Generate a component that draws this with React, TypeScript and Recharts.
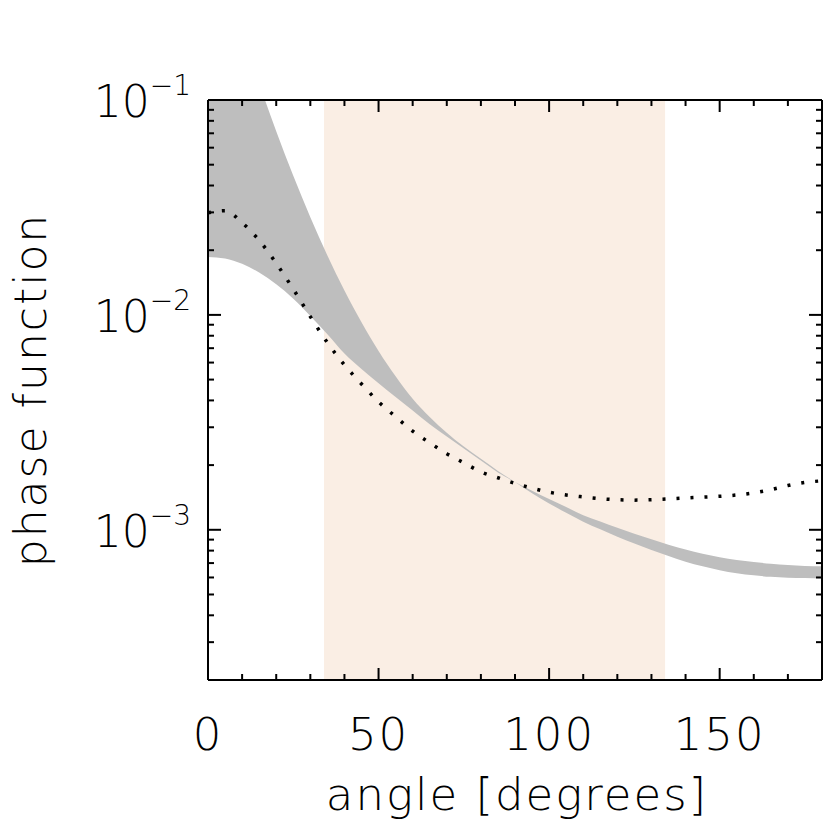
import React from "react";
import { Area, ComposedChart, Line, XAxis, YAxis, Label } from "recharts";

const angles = [
  0, 5, 10, 15, 20, 25, 30, 35, 40, 45, 50, 55, 60, 65, 70, 75, 80, 85, 90, 95,
  100, 105, 110, 115, 120, 125, 130, 135, 140, 145, 150, 155, 160, 165, 170, 175, 180,
];

// steep edge of the grey band (runs off the top at small angles)
const steepEdge = [
  0.681, 0.368, 0.206, 0.1194, 0.0716, 0.0444, 0.0285, 0.01892, 0.013, 0.00925, 0.0068, 0.00518, 0.00407,
  0.00335, 0.00283, 0.00244, 0.00214, 0.00188, 0.001667, 0.001479, 0.001327, 0.0012, 0.001091, 0.001005,
  0.000929, 0.000863, 0.000805, 0.000755, 0.000711, 0.000676, 0.000649, 0.000628, 0.000614, 0.000604,
  0.000598, 0.000596, 0.000594,
];

// flatter edge of the grey band
const flatEdge = [
  0.01862, 0.01832, 0.0173, 0.01574, 0.01387, 0.01189, 0.00989, 0.00813, 0.00661, 0.0056, 0.00481, 0.00415,
  0.00359, 0.0031, 0.00272, 0.00239, 0.0021, 0.00185, 0.00167, 0.00152, 0.00139, 0.001276, 0.00117,
  0.001094, 0.001021, 0.000959, 0.000904, 0.000851, 0.000809, 0.000774, 0.000746, 0.000724, 0.000708,
  0.000695, 0.000685, 0.000679, 0.000676,
];

const dotted = [
  0.02985, 0.03055, 0.02685, 0.02223, 0.01738, 0.01318, 0.00982, 0.00743, 0.00585, 0.00477, 0.00394,
  0.00336, 0.00288, 0.00254, 0.00226, 0.00205, 0.00186, 0.001746, 0.001644, 0.001563, 0.001496, 0.001452,
  0.001422, 0.001396, 0.00138, 0.001374, 0.00138, 0.001393, 0.001406, 0.001419, 0.001432, 0.001452,
  0.001486, 0.001538, 0.001607, 0.00166, 0.00169,
];

const xTicks = [0, 10, 20, 30, 40, 50, 60, 70, 80, 90, 100, 110, 120, 130, 140, 150, 160, 170, 180];
const xMajor = [0, 50, 100, 150];
const yTicks = [
  0.0002, 0.0003, 0.0004, 0.0005, 0.0006, 0.0007, 0.0008, 0.0009,
  0.001, 0.002, 0.003, 0.004, 0.005, 0.006, 0.007, 0.008, 0.009,
  0.01, 0.02, 0.03, 0.04, 0.05, 0.06, 0.07, 0.08, 0.09, 0.1,
];
const yDomain = [0.0002, 0.1];
const shadedRange = [34, 134];

const rows = angles.map((a, i) => ({
  angle: a,
  band: [steepEdge[i], flatEdge[i]],
  dotted: dotted[i],
}));

// shaded angle window, spanning the whole y range
const shadeRows = shadedRange.map((a) => ({ angle: a, shade: yDomain }));

const FONT = "'DejaVu Sans', sans-serif";
const WEIGHT = 300;

const isDecade = (v: number) => Math.abs(Math.log10(v) - Math.round(Math.log10(v))) < 1e-6;

function BottomTick({ x, y, payload }: any) {
  const major = xMajor.includes(payload.value);
  return (
    <g>
      <line x1={x} x2={x} y1={y} y2={y - (major ? 12 : 6)} stroke="#000" strokeWidth={2} />
      {major && (
        <text x={x} y={y + 70} textAnchor="middle" fontSize={45} fontFamily={FONT} fontWeight={WEIGHT} letterSpacing={2} fill="#000">
          {payload.value}
        </text>
      )}
    </g>
  );
}

function TopTick({ x, y, payload }: any) {
  const major = xMajor.includes(payload.value);
  return <line x1={x} x2={x} y1={y} y2={y + (major ? 12 : 6)} stroke="#000" strokeWidth={2} />;
}

function LeftTick({ x, y, payload }: any) {
  const major = isDecade(payload.value);
  const exp = Math.round(Math.log10(payload.value));
  return (
    <g>
      <line x1={x} x2={x + (major ? 13 : 6)} y1={y} y2={y} stroke="#000" strokeWidth={2} />
      {major && (
        <text x={x - 17} y={y + 17} textAnchor="end" fontFamily={FONT} fontWeight={WEIGHT} fill="#000">
          <tspan fontSize={44}>10</tspan>
          <tspan fontSize={28} dy={-22}>{"\u2212" + Math.abs(exp)}</tspan>
        </text>
      )}
    </g>
  );
}

function RightTick({ x, y, payload }: any) {
  const major = isDecade(payload.value);
  return <line x1={x} x2={x - (major ? 13 : 6)} y1={y} y2={y} stroke="#000" strokeWidth={2} />;
}

export default function App() {
  return (
    <div style={{ position: "absolute", left: 0, top: 0, width: 830, height: 830, background: "#fff" }}>
      <ComposedChart width={830} height={830} data={rows} margin={{ top: 99, right: 7, bottom: 0, left: 0 }}>
        <XAxis
          dataKey="angle"
          type="number"
          domain={[0, 180]}
          ticks={xTicks}
          interval={0}
          height={150}
          tickSize={0}
          tickMargin={0}
          tickLine={false}
          tick={<BottomTick />}
          axisLine={{ stroke: "#000", strokeWidth: 2 }}
          allowDataOverflow
        >
          <Label
            content={() => (
              <text x={517} y={810} textAnchor="middle" fontSize={45} fontFamily={FONT} fontWeight={WEIGHT} letterSpacing={2} fill="#000">
                angle [degrees]
              </text>
            )}
          />
        </XAxis>
        <XAxis
          xAxisId="top"
          orientation="top"
          dataKey="angle"
          type="number"
          domain={[0, 180]}
          ticks={xTicks}
          interval={0}
          height={1}
          tickSize={0}
          tickMargin={0}
          tickLine={false}
          tick={<TopTick />}
          axisLine={{ stroke: "#000", strokeWidth: 2 }}
          allowDataOverflow
        />
        <YAxis
          type="number"
          scale="log"
          domain={yDomain}
          ticks={yTicks}
          interval={0}
          width={208}
          tickSize={0}
          tickMargin={0}
          tickLine={false}
          tick={<LeftTick />}
          axisLine={{ stroke: "#000", strokeWidth: 2 }}
          allowDataOverflow
        >
          <Label
            content={() => (
              <text
                x={390}
                y={46}
                textAnchor="middle"
                fontSize={44}
                fontFamily={FONT}
                fontWeight={WEIGHT}
                letterSpacing={2}
                fill="#000"
                transform="translate(0 780) rotate(-90)"
              >
                phase function
              </text>
            )}
          />
        </YAxis>
        <YAxis
          yAxisId="right"
          orientation="right"
          type="number"
          scale="log"
          domain={yDomain}
          ticks={yTicks}
          interval={0}
          width={1}
          tickSize={0}
          tickMargin={0}
          tickLine={false}
          tick={<RightTick />}
          axisLine={{ stroke: "#000", strokeWidth: 2 }}
          allowDataOverflow
        />
        <Area
          data={shadeRows}
          dataKey="shade"
          type="linear"
          fill="#FAEEE4"
          fillOpacity={1}
          stroke="none"
          isAnimationActive={false}
        />
        <Area
          dataKey="band"
          type="monotone"
          fill="#BEBEBE"
          fillOpacity={1}
          stroke="none"
          isAnimationActive={false}
        />
        <Line
          xAxisId="top"
          yAxisId="right"
          dataKey="dotted"
          type="monotone"
          stroke="#000"
          strokeWidth={3.5}
          strokeDasharray="3 11"
          dot={false}
          isAnimationActive={false}
        />
      </ComposedChart>
    </div>
  );
}
